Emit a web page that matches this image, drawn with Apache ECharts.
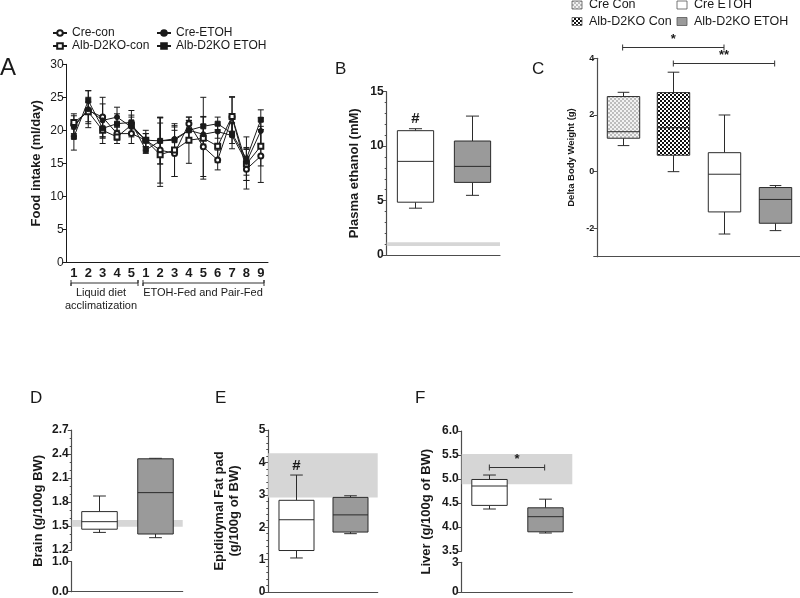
<!DOCTYPE html>
<html>
<head>
<meta charset="utf-8">
<script src="https://cdn.jsdelivr.net/npm/echarts@6.0.0/dist/echarts.min.js"></script>
<style>html,body{margin:0;padding:0;background:#fff}#main{width:800px;height:598px}</style>
</head>
<body>
<div id="main"></div>
<script>
var FONT = 'Arial, "Liberation Sans", sans-serif';
var INK = '#1a1a1a';
var AXIS = '#4d4d4d';

// A - food intake
var dayLabels = ['1', '2', '3', '4', '5', '1', '2', '3', '4', '5', '6', '7', '8', '9'];
var creCon = [20.8, 23.0, 22.0, 19.5, 19.5, 18.5, 17.0, 16.5, 21.0, 17.5, 15.5, 22.0, 14.1, 16.1];
var creConErr = [1.7, 2.0, 3.0, 1.0, 1.5, 1.5, 5.0, 3.5, 1.0, 4.5, 1.5, 3.0, 3.0, 4.0];
var albCon = [21.2, 22.8, 20.0, 19.0, 20.8, 18.5, 16.3, 17.0, 18.5, 18.8, 17.6, 22.1, 14.9, 17.6];
var albConErr = [1.0, 1.5, 2.0, 1.0, 1.5, 1.0, 4.8, 4.0, 3.5, 6.2, 2.5, 3.0, 2.5, 3.0];
var creEtoh = [20.5, 23.2, 21.5, 22.0, 20.5, 18.5, 18.4, 18.7, 20.0, 19.4, 19.8, 19.2, 15.2, 19.9];
var creEtohErr = [1.0, 2.8, 2.5, 1.5, 1.5, 1.0, 3.5, 2.0, 1.5, 1.5, 1.0, 2.0, 2.0, 2.0];
var albEtoh = [19.0, 24.5, 20.3, 21.0, 21.2, 17.0, 18.4, 18.5, 20.0, 20.6, 21.0, 19.5, 15.7, 21.6];
var albEtohErr = [2.0, 1.5, 1.5, 1.5, 1.8, 0.5, 3.5, 2.0, 1.5, 1.5, 1.0, 1.5, 3.3, 1.5];

// box data: [low, q1, median, q3, high]
var bBox = [[4.3, 4.85, 8.6, 11.42, 11.6], [5.48, 6.67, 8.14, 10.47, 12.76]];
var bBand = [0.83, 1.16];
var bNotes = ['#', ''];
var cGroups = ['Cre Con', 'Alb-D2KO Con', 'Cre ETOH', 'Alb-D2KO ETOH'];
var cBox = [[0.92, 1.18, 1.41, 2.65, 2.8], [0.0, 0.58, 1.55, 2.79, 3.51], [-2.2, -1.42, -0.09, 0.67, 2.0], [-2.08, -1.82, -0.98, -0.56, -0.49]];
var cSig = [[0, 2, 4.41], [1, 3, 3.82]];
var cSigText = ['*', '**'];
var dBox = [[1.42, 1.46, 1.554, 1.68, 1.875], [1.354, 1.4, 1.917, 2.34, 2.346]];
var dBand = [1.49, 1.575];
var eBox = [[1.05, 1.28, 2.23, 2.83, 3.61], [1.8, 1.85, 2.38, 2.92, 2.97]];
var eBand = [2.92, 4.28];
var eNotes = ['#', ''];
var fBox = [[4.375, 4.45, 4.854, 4.99, 5.083], [3.875, 3.9, 4.215, 4.4, 4.58]];
var fBand = [4.89, 5.52];
var fSig = [[0, 1, 5.257]];
var fSigText = ['*'];

function checker(c1, c2, s) {
    var cv = document.createElement('canvas');
    cv.width = cv.height = s * 2;
    var ctx = cv.getContext('2d');
    ctx.fillStyle = c1;
    ctx.fillRect(0, 0, s * 2, s * 2);
    ctx.fillStyle = c2;
    ctx.fillRect(0, 0, s, s);
    ctx.fillRect(s, s, s, s);
    return {image: cv, repeat: 'repeat'};
}
var lightCheck = checker('#f2f2f2', '#bdbdbd', 2);
var darkCheck = checker('#ffffff', '#111111', 2);

function errData(vals, errs) {
    return vals.map(function (v, i) { return [i, v, errs[i]]; });
}
function boxData(boxes) {
    return boxes.map(function (b, i) { return [i].concat(b); });
}

function renderErr(params, api) {
    var x = api.value(0), v = api.value(1), e = api.value(2);
    var hi = api.coord([x, v + e]), lo = api.coord([x, v - e]);
    var s = {stroke: INK, lineWidth: 1, fill: null};
    return {type: 'group', children: [
        {type: 'line', shape: {x1: hi[0], y1: hi[1], x2: lo[0], y2: lo[1]}, style: s},
        {type: 'line', shape: {x1: hi[0] - 3, y1: hi[1], x2: hi[0] + 3, y2: hi[1]}, style: s},
        {type: 'line', shape: {x1: lo[0] - 3, y1: lo[1], x2: lo[0] + 3, y2: lo[1]}, style: s}
    ]};
}

function boxRenderer(fills, notes) {
    return function (params, api) {
        var x = api.value(0);
        var w = api.size([1, 0])[0] * 0.64, cw = w * 0.36;
        var lo = api.coord([x, api.value(1)]), q1 = api.coord([x, api.value(2)]);
        var md = api.coord([x, api.value(3)]), q3 = api.coord([x, api.value(4)]);
        var hi = api.coord([x, api.value(5)]);
        var cx = Math.round(md[0]) + 0.5;
        var s = {stroke: '#2b2b2b', lineWidth: 1, fill: null};
        var kids = [
            {type: 'line', shape: {x1: cx, y1: q3[1], x2: cx, y2: hi[1]}, style: s},
            {type: 'line', shape: {x1: cx, y1: q1[1], x2: cx, y2: lo[1]}, style: s},
            {type: 'line', shape: {x1: cx - cw / 2, y1: hi[1], x2: cx + cw / 2, y2: hi[1]}, style: s},
            {type: 'line', shape: {x1: cx - cw / 2, y1: lo[1], x2: cx + cw / 2, y2: lo[1]}, style: s},
            {type: 'rect', shape: {x: cx - w / 2, y: q3[1], width: w, height: q1[1] - q3[1]},
                style: {fill: fills[params.dataIndex], stroke: '#2b2b2b', lineWidth: 1}},
            {type: 'line', shape: {x1: cx - w / 2, y1: md[1], x2: cx + w / 2, y2: md[1]}, style: s}
        ];
        if (notes && notes[params.dataIndex]) {
            kids.push({type: 'text', x: cx, y: hi[1] - 2, style: {text: notes[params.dataIndex], fill: INK,
                font: 'bold 15px ' + FONT, align: 'center', verticalAlign: 'bottom'}});
        }
        return {type: 'group', children: kids};
    };
}

function renderBand(params, api) {
    var cs = params.coordSys;
    var y0 = api.coord([0, api.value(1)])[1], y1 = api.coord([0, api.value(2)])[1];
    return {type: 'rect', shape: {x: cs.x, y: y1, width: cs.width, height: y0 - y1}, style: {fill: '#d6d6d6'}};
}

function sigRenderer(texts) {
    return function (params, api) {
        var y = api.value(2);
        var a = api.coord([api.value(0), y]), b = api.coord([api.value(1), y]);
        var yy = Math.round(a[1]) + 0.5;
        var s = {stroke: '#333', lineWidth: 1, fill: null};
        return {type: 'group', children: [
            {type: 'line', shape: {x1: a[0], y1: yy, x2: b[0], y2: yy}, style: s},
            {type: 'line', shape: {x1: a[0], y1: yy - 3, x2: a[0], y2: yy + 3}, style: s},
            {type: 'line', shape: {x1: b[0], y1: yy - 3, x2: b[0], y2: yy + 3}, style: s},
            {type: 'text', x: (a[0] + b[0]) / 2, y: yy - 2, style: {text: texts[params.dataIndex], fill: INK,
                font: 'bold 13px ' + FONT, align: 'center', verticalAlign: 'bottom'}}
        ]};
    };
}

function catAxis(grid, n, showLine) {
    var d = [];
    for (var i = 0; i < n; i++) d.push(String(i));
    return {gridIndex: grid, type: 'category', data: d, show: showLine,
        axisLine: {onZero: false, lineStyle: {color: AXIS, width: 1.2}}, axisTick: {show: false}, axisLabel: {show: false}};
}
function valAxis(grid, min, max, interval, o) {
    o = o || {};
    var ax = {gridIndex: grid, type: 'value', min: min, max: max, interval: interval,
        splitLine: {show: false},
        axisLine: {show: true, lineStyle: {color: AXIS, width: 1.2}},
        axisTick: {show: true, length: 4, lineStyle: {color: AXIS}},
        minorTick: {show: !!o.minor, splitNumber: o.minor || 5, length: 2, lineStyle: {color: AXIS}},
        axisLabel: {color: INK, fontFamily: FONT, fontSize: o.fs || 12, fontWeight: 'bold', margin: 3,
            formatter: o.fmt},
        name: o.name || '', nameLocation: 'middle', nameGap: o.gap || 25,
        nameTextStyle: {color: INK, fontFamily: FONT, fontSize: o.nfs || 13, fontWeight: 'bold', lineHeight: 15}
    };
    if (o.split) { delete ax.interval; ax.splitNumber = o.split; }
    return ax;
}
function nameAxis(grid, name, gap) {
    return {gridIndex: grid, type: 'value', min: 0, max: 1, axisLine: {show: false}, axisTick: {show: false},
        axisLabel: {show: false}, splitLine: {show: false}, name: name, nameLocation: 'middle', nameGap: gap,
        nameTextStyle: {color: INK, fontFamily: FONT, fontSize: 13, fontWeight: 'bold'}};
}
var fix1 = function (v) { return v.toFixed(1); };

var chart = echarts.init(document.getElementById('main'));
var lineBase = {type: 'line', xAxisIndex: 0, yAxisIndex: 0, symbolSize: 5, z: 4,
    lineStyle: {color: INK, width: 1}, itemStyle: {color: INK, borderColor: INK, borderWidth: 1}};
function lineSeries(name, sym, data) {
    return Object.assign({}, lineBase, {name: name, symbol: sym, data: data});
}
function errSeries(vals, errs) {
    return {type: 'custom', xAxisIndex: 0, yAxisIndex: 0, z: 3, renderItem: renderErr, data: errData(vals, errs), silent: true};
}
function boxSeries(ax, boxes, fills, notes) {
    return {type: 'custom', xAxisIndex: ax, yAxisIndex: ax, z: 3, renderItem: boxRenderer(fills, notes), data: boxData(boxes), silent: true};
}
function bandSeries(ax, band) {
    return {type: 'custom', xAxisIndex: ax, yAxisIndex: ax, z: 1, renderItem: renderBand, data: [[0, band[0], band[1]]], silent: true};
}
function sigSeries(ax, sig, texts) {
    return {type: 'custom', xAxisIndex: ax, yAxisIndex: ax, z: 5, renderItem: sigRenderer(texts), data: sig, silent: true, clip: false};
}

var legendText = {color: INK, fontFamily: FONT, fontSize: 12, lineHeight: 12};
var letter = function (t, x, y, size) {
    return {type: 'text', left: x, top: y, style: {text: t, font: size + 'px ' + FONT, fill: INK}};
};
var swatch = function (x, y, fill, label) {
    return {type: 'group', children: [
        {type: 'rect', shape: {x: x, y: y, width: 10, height: 8}, style: {fill: fill, stroke: '#555', lineWidth: 0.8}},
        {type: 'text', x: x + 17, y: y + 4, style: {text: label, font: '12.5px ' + FONT, fill: INK, verticalAlign: 'middle'}}
    ]};
};

var option = {
    animation: false,
    backgroundColor: '#fff',
    textStyle: {fontFamily: FONT},
    grid: [
        {left: 66.7, top: 64.3, width: 201.3, height: 198},
        {left: 386.7, top: 91.7, width: 113.3, height: 163.3},
        {left: 597.3, top: 58.3, width: 202.7, height: 198.4},
        {left: 71.7, top: 430, width: 111, height: 120},
        {left: 71.7, top: 561.7, width: 111, height: 30},
        {left: 71.7, top: 430, width: 111, height: 161.7},
        {left: 268.3, top: 430, width: 109.4, height: 162.3},
        {left: 461.7, top: 431, width: 110.6, height: 120},
        {left: 461.7, top: 562.3, width: 110.6, height: 30},
        {left: 461.7, top: 431, width: 110.6, height: 161.3}
    ],
    legend: [
        {data: ['Cre-con', 'Alb-D2KO-con'], orient: 'vertical', left: 47, top: 22, itemWidth: 14, itemHeight: 7,
            itemGap: 1, textStyle: legendText},
        {data: ['Cre-ETOH', 'Alb-D2KO ETOH'], orient: 'vertical', left: 151, top: 22, itemWidth: 14, itemHeight: 7,
            itemGap: 1, textStyle: legendText}
    ],
    xAxis: [
        {gridIndex: 0, type: 'category', data: dayLabels,
            axisLine: {lineStyle: {color: INK, width: 1}},
            axisTick: {alignWithLabel: true, length: 3, lineStyle: {color: INK}},
            axisLabel: {color: INK, fontFamily: FONT, fontSize: 13, fontWeight: 'bold', margin: 5}},
        catAxis(1, 2, true),
        catAxis(2, 4, true),
        catAxis(3, 2, false),
        catAxis(4, 2, true),
        catAxis(5, 2, false),
        catAxis(6, 2, true),
        catAxis(7, 2, false),
        catAxis(8, 2, true),
        catAxis(9, 2, false)
    ],
    yAxis: [
        {gridIndex: 0, type: 'value', min: 0, max: 30, interval: 5, splitLine: {show: false},
            axisLine: {show: true, lineStyle: {color: INK, width: 1}},
            axisTick: {show: true, length: 4, lineStyle: {color: INK}},
            axisLabel: {color: INK, fontFamily: FONT, fontSize: 12, margin: 3},
            name: 'Food intake (ml/day)', nameLocation: 'middle', nameGap: 24,
            nameTextStyle: {color: INK, fontFamily: FONT, fontSize: 13, fontWeight: 'bold'}},
        valAxis(1, 0, 15, 5, {minor: 5, name: 'Plasma ethanol (mM)', gap: 25}),
        valAxis(2, -3, 4, null, {split: 3, fs: 9, nfs: 9.5, gap: 18, name: 'Delta Body Weight (g)',
            fmt: function (v) { return v === -3 ? '' : String(v); }}),
        valAxis(3, 1.2, 2.7, 0.3, {minor: 3, fmt: fix1}),
        valAxis(4, 0, 1, 1, {fmt: fix1}),
        nameAxis(5, 'Brain (g/100g BW)', 27),
        valAxis(6, 0, 5, 1, {minor: 5, name: 'Epididymal Fat pad\n(g/100g of BW)', gap: 26}),
        valAxis(7, 3.5, 6, 0.5, {fmt: fix1}),
        valAxis(8, 0, 3, 3, {}),
        nameAxis(9, 'Liver (g/100g of BW)', 29)
    ],
    series: [
        errSeries(creCon, creConErr),
        errSeries(albCon, albConErr),
        errSeries(creEtoh, creEtohErr),
        errSeries(albEtoh, albEtohErr),
        lineSeries('Cre-con', 'emptyCircle', creCon),
        lineSeries('Alb-D2KO-con', 'emptyRect', albCon),
        lineSeries('Cre-ETOH', 'circle', creEtoh),
        lineSeries('Alb-D2KO ETOH', 'rect', albEtoh),
        bandSeries(1, bBand),
        boxSeries(1, bBox, ['#ffffff', '#9a9a9a'], bNotes),
        boxSeries(2, cBox, [lightCheck, darkCheck, '#ffffff', '#9a9a9a']),
        sigSeries(2, cSig, cSigText),
        bandSeries(3, dBand),
        boxSeries(3, dBox, ['#ffffff', '#9a9a9a']),
        bandSeries(6, eBand),
        boxSeries(6, eBox, ['#ffffff', '#9a9a9a'], eNotes),
        bandSeries(7, fBand),
        boxSeries(7, fBox, ['#ffffff', '#9a9a9a']),
        sigSeries(7, fSig, fSigText)
    ],
    graphic: [
        letter('A', 0, 56, 24),
        letter('B', 335, 61, 17),
        letter('C', 532, 61, 17),
        letter('D', 30, 390, 17),
        letter('E', 215, 390, 17),
        letter('F', 415, 390, 17),
        swatch(572, 1, lightCheck, cGroups[0]),
        swatch(572, 17.5, darkCheck, cGroups[1]),
        swatch(677, 1, '#ffffff', cGroups[2]),
        swatch(677, 17.5, '#9a9a9a', cGroups[3]),
        // period brackets under panel A
        {type: 'polyline', shape: {points: [[71, 280], [71, 286], [71, 283], [138, 283], [138, 280], [138, 286]]},
            style: {stroke: '#333', lineWidth: 1, fill: null}},
        {type: 'polyline', shape: {points: [[143, 280], [143, 286], [143, 283], [264, 283], [264, 280], [264, 286]]},
            style: {stroke: '#333', lineWidth: 1, fill: null}},
        {type: 'text', x: 101, y: 293, style: {text: 'Liquid diet', font: '11px ' + FONT, fill: INK, align: 'center', verticalAlign: 'middle'}},
        {type: 'text', x: 101, y: 306, style: {text: 'acclimatization', font: '11px ' + FONT, fill: INK, align: 'center', verticalAlign: 'middle'}},
        {type: 'text', x: 203, y: 293, style: {text: 'ETOH-Fed and Pair-Fed', font: '11px ' + FONT, fill: INK, align: 'center', verticalAlign: 'middle'}}
    ]
};
chart.setOption(option);
</script>
</body>
</html>
